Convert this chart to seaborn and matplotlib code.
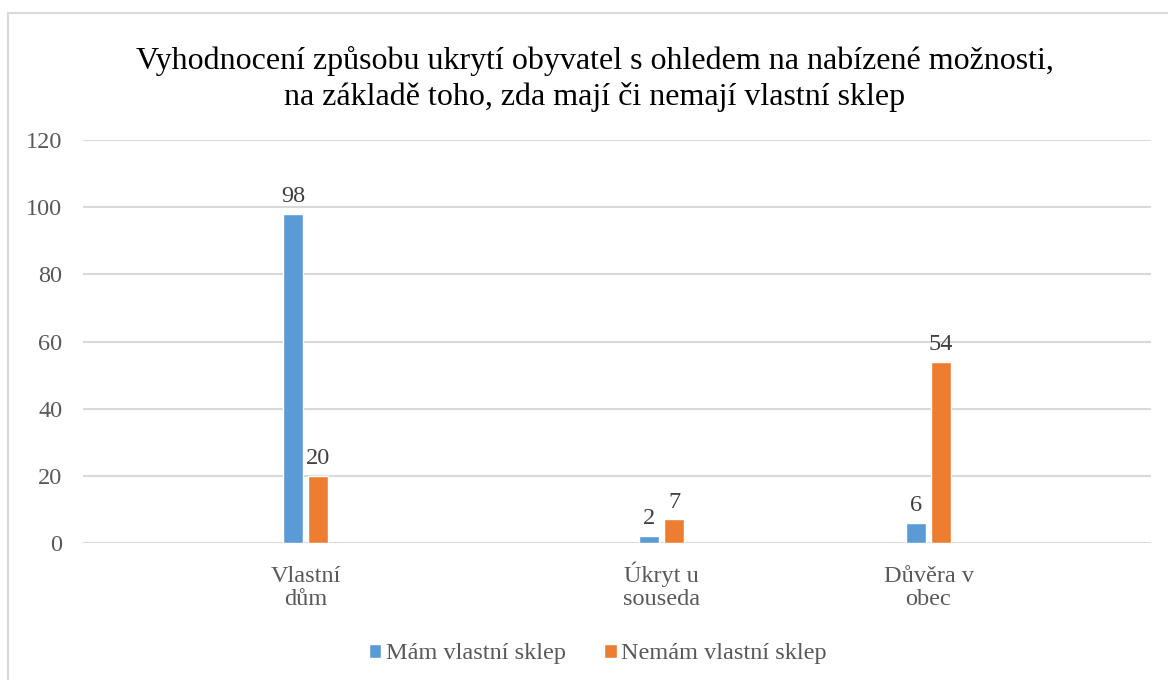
import matplotlib
matplotlib.use("Agg")
import matplotlib.pyplot as plt
import seaborn as sns
import pandas as pd
from matplotlib.patches import Rectangle

# data
categories = ["Vlastní\ndům", "Úkryt u\nsouseda", "Důvěra v\nobec"]
mam_sklep = [98, 2, 6]
nemam_sklep = [20, 7, 54]
series_names = ["Mám vlastní sklep", "Nemám vlastní sklep"]
# the source sheet has empty rows between the categories (12 slots in total)
slot_of_category = [2, 6, 9]
n_slots = 12
y_ticks = [0, 20, 40, 60, 80, 100, 120]

title = ("Vyhodnocení způsobu ukrytí obyvatel s ohledem na nabízené možnosti,\n"
         "na základě toho, zda mají či nemají vlastní sklep")

colors = ["#5B9BD5", "#ED7D31"]

# build long table
rows = []
for cat, a, b in zip(categories, mam_sklep, nemam_sklep):
    rows.append({"kat": cat, "serie": series_names[0], "hodnota": a})
    rows.append({"kat": cat, "serie": series_names[1], "hodnota": b})
df = pd.DataFrame(rows)

order = [f"_empty{i}" for i in range(n_slots)]
for slot, cat in zip(slot_of_category, categories):
    order[slot] = cat

sns.set_theme(style="white")
plt.rcParams['font.family'] = ['Liberation Serif', 'DejaVu Serif']

fig = plt.figure(figsize=(11.68, 6.8), dpi=100)
ax = fig.add_axes([83 / 1168, 1 - 543 / 680, (1151 - 83) / 1168, (543 - 140) / 680])

sns.barplot(data=df, x="kat", y="hodnota", hue="serie", order=order,
            hue_order=series_names, palette=colors, width=0.57, gap=0.22,
            saturation=1, ax=ax, legend=True)

ax.set_ylim(0, 120)
ax.set_xlim(-0.5, n_slots - 0.5)
ax.set_yticks(y_ticks)
ax.set_yticklabels([str(t) for t in y_ticks], fontsize=17.5, color="#595959")
ax.set_xticks(range(n_slots))
ax.set_xticklabels([lbl if not lbl.startswith("_empty") else "" for lbl in order],
                   fontsize=17.5, color="#595959", linespacing=1.1, va="baseline")
ax.tick_params(axis="x", length=0, pad=44.5)
ax.tick_params(axis="y", length=0, pad=15)
ax.set_xlabel("")
ax.set_ylabel("")
ax.grid(axis="y", color="#d9d9d9", linewidth=1.5)
ax.set_axisbelow(True)
for s in ax.spines.values():
    s.set_visible(False)

for cont in ax.containers:
    ax.bar_label(cont, fontsize=17.5, color="#404040", padding=5)

ax.legend(loc="center", bbox_to_anchor=(0.482, -0.275), ncol=2, frameon=False,
          fontsize=17.5, handlelength=0.5, handleheight=0.5, handletextpad=0.2,
          columnspacing=1.6, labelcolor="#595959")

fig.text(595 / 1168, 1 - 79 / 680, title, ha="center", va="center", fontsize=23,
         color="#000000", linespacing=1.25)

# chart border
fig.patches.append(Rectangle((8 / 1168, -0.01), 1.0, 1 - 13 / 680 + 0.01,
                             transform=fig.transFigure, fill=False,
                             edgecolor="#d9d9d9", linewidth=1.5))

fig.savefig("out.png", dpi=100)
